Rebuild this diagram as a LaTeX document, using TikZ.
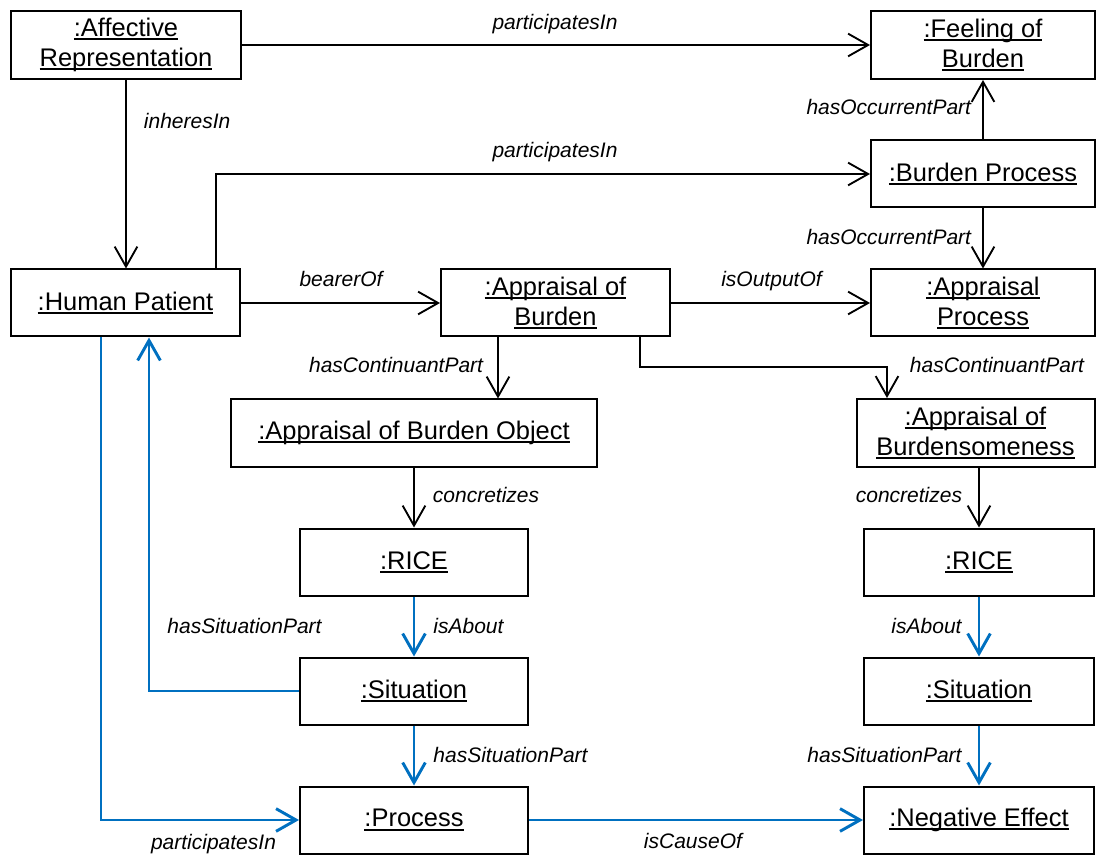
\documentclass[tikz,border=0pt]{standalone}
\usepackage{fontspec}
\setmainfont{Liberation Sans}
\usetikzlibrary{arrows.meta}
\definecolor{linkblue}{HTML}{0070C0}
\newsavebox\ulbox
\newcommand\uln[1]{\sbox\ulbox{#1}\rlap{\rule[-0.14em]{\wd\ulbox}{0.07em}}\usebox\ulbox}
\begin{document}
\begin{tikzpicture}[x=0.75pt,y=-0.75pt,
  obj/.style={draw, line width=1.5pt, inner sep=0pt, align=center,
    font=\fontsize{19.1}{22.5}\selectfont, minimum height=50.25pt},
  lbl/.style={inner sep=0pt, text=black, font=\fontsize{15.75}{18}\selectfont\itshape},
  rel/.style={line width=1.4pt, -{Straight Barb[length=15pt,width=17pt]}},
  brel/.style={rel, linkblue, line width=2.2pt}]
\useasboundingbox (0,0) rectangle (1096,855);

% objects
\node[obj, minimum width=172.5pt, minimum height=51pt] (ar)  at (126,45)    {\uln{:Affective}\\\uln{Representation}};
\node[obj, minimum width=168pt, minimum height=51pt]   (fb)  at (983,45)    {\uln{:Feeling of}\\\uln{Burden}};
\node[obj, minimum width=168pt]    (bp)   at (983,174)    {\uln{:Burden Process}};
\node[obj, minimum width=168pt]    (ap)   at (983,303)    {\uln{:Appraisal}\\\uln{Process}};
\node[obj, minimum width=171.75pt] (hp)   at (125.5,303)  {\uln{:Human Patient}};
\node[obj, minimum width=171.75pt] (ab)   at (555.5,303)  {\uln{:Appraisal of}\\\uln{Burden}};
\node[obj, minimum width=274.5pt]  (abo)  at (414,433)    {\uln{:Appraisal of Burden Object}};
\node[obj, minimum width=178.5pt, minimum height=51pt] (abs) at (975.5,433) {\uln{:Appraisal of}\\\uln{Burdensomeness}};
\node[obj, minimum width=171pt]    (rice1) at (414,562)   {\uln{:RICE}};
\node[obj, minimum width=171pt]    (sit1)  at (414,691)   {\uln{:Situation}};
\node[obj, minimum width=171pt]    (proc)  at (414,820)   {\uln{:Process}};
\node[obj, minimum width=172.5pt]  (rice2) at (979,562)   {\uln{:RICE}};
\node[obj, minimum width=172.5pt]  (sit2)  at (979,691)   {\uln{:Situation}};
\node[obj, minimum width=172.5pt]  (ne)    at (979,820)   {\uln{:Negative Effect}};

% bend points
\coordinate (k1) at (216,173);
\coordinate (k2) at (498,0);
\coordinate (k3) at (640,367);
\coordinate (k4) at (887,367);
\coordinate (k5) at (149,0);
\coordinate (k6) at (101,0);

% black relations
\draw[rel] (ar.east) -- (fb.west)
  node[lbl, anchor=base] at (555,30) {participatesIn};
\draw[rel] (ar.south) -- (ar.south |- hp.north)
  node[lbl, anchor=base west] at (143,129) {inheresIn};
\draw[rel] (hp.north -| k1) |- (bp.west)
  node[lbl, anchor=base] at (555,158) {participatesIn};
\draw[rel] (bp.north) -- (fb.south)
  node[lbl, anchor=base east] at (972,115) {hasOccurrentPart};
\draw[rel] (bp.south) -- (ap.north)
  node[lbl, anchor=base east] at (972,245) {hasOccurrentPart};
\draw[rel] (hp.east) -- (ab.west)
  node[lbl, anchor=base] at (341,287) {bearerOf};
\draw[rel] (ab.east) -- (ap.west)
  node[lbl, anchor=base] at (771.5,287) {isOutputOf};
\draw[rel] (ab.south -| k2) -- (abo.north -| k2)
  node[lbl, anchor=base east] at (484,373) {hasContinuantPart};
\draw[rel] (ab.south -| k3) |- (k4) -- (abs.north -| k4)
  node[lbl, anchor=base west] at (909,373) {hasContinuantPart};
\draw[rel] (abo.south) -- (rice1.north)
  node[lbl, anchor=base west] at (432,503) {concretizes};
\draw[rel] (abs.south -| rice2) -- (rice2.north)
  node[lbl, anchor=base east] at (963,503) {concretizes};

% blue relations
\draw[brel] (rice1.south) -- (sit1.north)
  node[lbl, anchor=base west] at (432,633) {isAbout};
\draw[brel] (sit1.south) -- (proc.north)
  node[lbl, anchor=base west] at (432,762) {hasSituationPart};
\draw[brel] (sit1.west) -| (hp.south -| k5)
  node[lbl, anchor=base west] at (166,633) {hasSituationPart};
\draw[brel] (hp.south -| k6) |- (proc.west)
  node[lbl, anchor=base] at (213.5,849) {participatesIn};
\draw[brel] (proc.east) -- (ne.west)
  node[lbl, anchor=base] at (693,848) {isCauseOf};
\draw[brel] (rice2.south) -- (sit2.north)
  node[lbl, anchor=base east] at (963,633) {isAbout};
\draw[brel] (sit2.south) -- (ne.north)
  node[lbl, anchor=base east] at (963,762) {hasSituationPart};
\end{tikzpicture}
\end{document}
